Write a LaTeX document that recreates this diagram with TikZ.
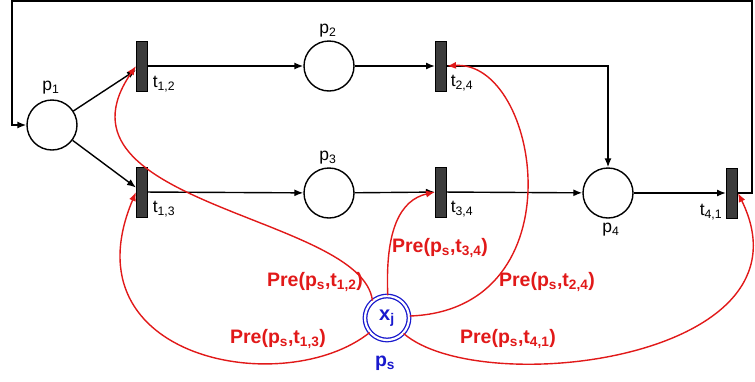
\documentclass[tikz,border=0pt]{standalone}
\usepackage{fontspec}
\setmainfont{Liberation Sans}
\usetikzlibrary{arrows.meta}

\definecolor{prered}{RGB}{225,25,25}
\definecolor{psblue}{RGB}{25,25,205}
\definecolor{transgray}{RGB}{60,60,60}

\tikzset{
  place/.style={circle,draw,line width=1.4pt,minimum size=50pt,inner sep=0pt},
  trans/.style={rectangle,draw,line width=1pt,fill=transgray,minimum width=11pt,minimum height=50pt,inner sep=0pt},
  flow/.style={-{Latex[length=9pt,width=7pt]},line width=1.4pt},
  preflow/.style={flow,prered},
  lab/.style={font=\fontsize{17.5}{17.5}\selectfont,inner sep=0pt},
  prelab/.style={font=\fontsize{19.5}{19.5}\selectfont\bfseries,text=prered,inner sep=0pt}
}

\begin{document}
\begin{tikzpicture}[x=1pt,y=-1pt]
\useasboundingbox (0,0) rectangle (755,381);

% places
\node (p1) at (52,125) [place] {};
\node (p2) at (329,66) [place] {};
\node (p3) at (329,193) [place] {};
\node (p4) at (608,193) [place] {};
\node (ps) at (387,318) [place,draw=psblue,double=white,double distance=2.2pt,line width=1.3pt,minimum size=44pt,text=psblue,font=\fontsize{20}{20}\selectfont\bfseries] {x\textsubscript{j}};

% transitions
\node (t12) at (142,66) [trans] {};
\node (t13) at (142,192) [trans] {};
\node (t24) at (441,66) [trans] {};
\node (t34) at (441,192) [trans] {};
\node (t41) at (732,193) [trans] {};

% names
\node (lp1) at (51,88) [lab] {p\textsubscript{1}};
\node (lp2) at (328,31) [lab] {p\textsubscript{2}};
\node (lp3) at (328,158) [lab] {p\textsubscript{3}};
\node (lp4) at (611,230) [lab] {p\textsubscript{4}};
\node (lt12) at (164,84) [lab] {t\textsubscript{1,2}};
\node (lt24) at (462,83) [lab] {t\textsubscript{2,4}};
\node (lt13) at (164,209) [lab] {t\textsubscript{1,3}};
\node (lt34) at (462,209) [lab] {t\textsubscript{3,4}};
\node (lt41) at (711,212) [lab] {t\textsubscript{4,1}};
\node (lps) at (385,363) [prelab,text=psblue] {p\textsubscript{s}};

% net
\draw[flow] (p1) -- (t12);
\draw[flow] (p1) -- (t13);
\draw[flow] (t12) -- (p2);
\draw[flow] (p2) -- (t24);
\draw[flow] (t13) -- (p3);
\draw[flow] (p3) -- (t34);
\draw[flow] (t34) -- (p4);
\draw[flow] (p4) -- (t41);
\draw[flow] (t24.east) -| (p4.north);
\coordinate (topr) at (752,1);
\coordinate (topl) at (12,1);
\draw[flow] (t41.east) -| (topr) -- (topl) |- (p1.west);

% arcs from p_s
\draw[preflow] (ps.130) .. controls (362,215) and (40,205) .. (t12.west);
\draw[preflow] (ps.220) .. controls (285,400) and (65,360) .. (t13.west);
\draw[preflow] (ps.88) .. controls (385,230) and (400,200) .. (t34.west);
\draw[preflow] (ps.5) .. controls (580,310) and (540,60) .. (t24.east);
\draw[preflow] (ps.-43) .. controls (480,400) and (820,360) .. (t41.east);

\node (pre12) at (315,282) [prelab] {Pre(p\textsubscript{s},t\textsubscript{1,2})};
\node (pre13) at (278,339) [prelab] {Pre(p\textsubscript{s},t\textsubscript{1,3})};
\node (pre34) at (440,248) [prelab] {Pre(p\textsubscript{s},t\textsubscript{3,4})};
\node (pre24) at (547,282) [prelab] {Pre(p\textsubscript{s},t\textsubscript{2,4})};
\node (pre41) at (508,339) [prelab] {Pre(p\textsubscript{s},t\textsubscript{4,1})};

\end{tikzpicture}
\end{document}
